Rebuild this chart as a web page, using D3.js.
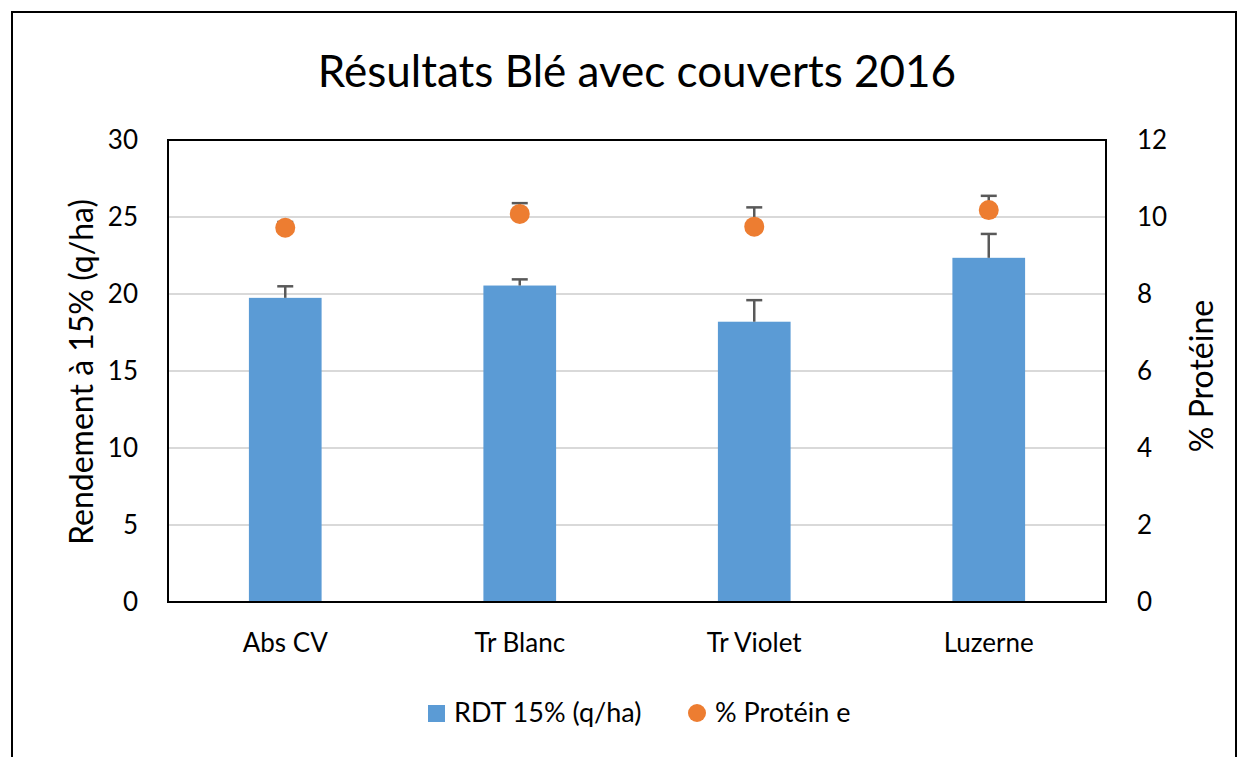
<!DOCTYPE html>
<html>
<head>
<meta charset="utf-8">
<script src="https://cdn.jsdelivr.net/npm/d3@7"></script>
<style>
  body { margin: 0; background: #fff; }
  svg { font-family: Lato, "Open Sans", sans-serif; }
</style>
</head>
<body>
<div id="chart"></div>
<script>
const categories = ["Abs CV", "Tr Blanc", "Tr Violet", "Luzerne"];
const rdtValues = [19.75, 20.55, 18.2, 22.35];
const rdtErrors = [0.75, 0.4, 1.4, 1.55];
const proteinValues = [9.72, 10.08, 9.75, 10.18];
const proteinErrors = [0.15, 0.28, 0.5, 0.37];
const leftTicks = [0, 5, 10, 15, 20, 25, 30];
const rightTicks = [0, 2, 4, 6, 8, 10, 12];

const width = 1248, height = 757;
const plot = { left: 168, right: 1106, top: 140, bottom: 602 };

const svg = d3.select("#chart").append("svg")
  .attr("width", width)
  .attr("height", height);

// outer frame (bottom runs off the picture)
svg.append("path")
  .attr("d", "M12,760 L12,12 L1236,12 L1236,760")
  .attr("fill", "none")
  .attr("stroke", "#000")
  .attr("stroke-width", 2);

const x = d3.scaleBand().domain(categories).range([plot.left, plot.right]).paddingInner(0.69).paddingOuter(0.345);
const yLeft = d3.scaleLinear().domain([0, 30]).range([plot.bottom, plot.top]);
const yRight = d3.scaleLinear().domain([0, 12]).range([plot.bottom, plot.top]);

// gridlines
svg.append("g")
  .selectAll("line")
  .data(leftTicks.filter((t) => t > 0 && t < 30))
  .enter()
  .append("line")
  .attr("x1", plot.left)
  .attr("x2", plot.right)
  .attr("y1", (d) => yLeft(d))
  .attr("y2", (d) => yLeft(d))
  .attr("stroke", "#d9d9d9")
  .attr("stroke-width", 2);

// bars
svg.append("g")
  .selectAll("rect")
  .data(rdtValues)
  .enter()
  .append("rect")
  .attr("x", (d, i) => x(categories[i]))
  .attr("y", (d) => yLeft(d))
  .attr("width", x.bandwidth())
  .attr("height", (d) => yLeft(0) - yLeft(d))
  .attr("fill", "#5b9bd5");

// error bars (plus side only)
function errorBars(vals, errs, scale) {
  const g = svg.append("g").attr("stroke", "#595959").attr("stroke-width", 2.5);
  vals.forEach((v, i) => {
    const cx = x(categories[i]) + x.bandwidth() / 2;
    g.append("line")
      .attr("x1", cx).attr("x2", cx)
      .attr("y1", scale(v)).attr("y2", scale(v + errs[i]));
    g.append("line")
      .attr("x1", cx - 8).attr("x2", cx + 8)
      .attr("y1", scale(v + errs[i])).attr("y2", scale(v + errs[i]));
  });
}
errorBars(rdtValues, rdtErrors, yLeft);
errorBars(proteinValues, proteinErrors, yRight);

// protein dots
svg.append("g")
  .selectAll("circle")
  .data(proteinValues)
  .enter()
  .append("circle")
  .attr("cx", (d, i) => x(categories[i]) + x.bandwidth() / 2)
  .attr("cy", (d) => yRight(d))
  .attr("r", 10)
  .attr("fill", "#ed7d31");

// plot box
svg.append("rect")
  .attr("x", plot.left)
  .attr("y", plot.top)
  .attr("width", plot.right - plot.left)
  .attr("height", plot.bottom - plot.top)
  .attr("fill", "none")
  .attr("stroke", "#000")
  .attr("stroke-width", 2);

// axes
const yAxisL = d3.axisLeft(yLeft).tickValues(leftTicks).tickSize(0).tickPadding(30);
const yAxisR = d3.axisRight(yRight).tickValues(rightTicks).tickSize(0).tickPadding(31);
const xAxis = d3.axisBottom(x).tickSize(0).tickPadding(32);

const gl = svg.append("g").attr("transform", `translate(${plot.left},0)`).call(yAxisL);
const gr = svg.append("g").attr("transform", `translate(${plot.right},0)`).call(yAxisR);
const gx = svg.append("g").attr("transform", `translate(0,${plot.bottom})`).call(xAxis);
[gl, gr, gx].forEach((g) => {
  g.select(".domain").remove();
  g.selectAll("text").attr("font-size", 26).attr("font-family", "Lato, sans-serif").attr("fill", "#000");
});

// title
svg.append("text")
  .attr("x", 637)
  .attr("y", 87)
  .attr("text-anchor", "middle")
  .attr("font-size", 44)
  .text("Résultats Blé avec couverts 2016");

// axis titles
svg.append("text")
  .attr("transform", "translate(93,372) rotate(-90)")
  .attr("text-anchor", "middle")
  .attr("font-size", 32)
  .text("Rendement à 15% (q/ha)");

svg.append("text")
  .attr("transform", "translate(1213,376) rotate(-90)")
  .attr("text-anchor", "middle")
  .attr("font-size", 32)
  .text("% Protéine");

// legend
const legend = svg.append("g").attr("font-size", 27);
legend.append("rect").attr("x", 428).attr("y", 705).attr("width", 17).attr("height", 17).attr("fill", "#5b9bd5");
legend.append("text").attr("x", 454).attr("y", 722).text("RDT 15% (q/ha)");
legend.append("circle").attr("cx", 697).attr("cy", 713).attr("r", 9).attr("fill", "#ed7d31");
legend.append("text").attr("x", 715).attr("y", 722).text("% Protéin e");
</script>
</body>
</html>
